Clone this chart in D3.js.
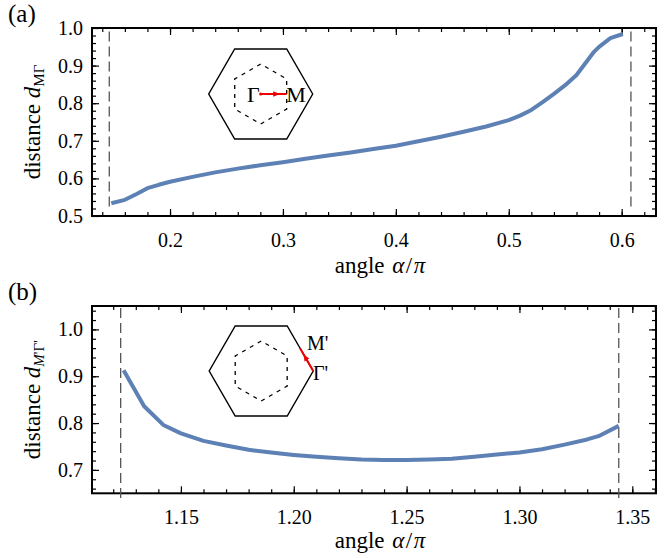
<!DOCTYPE html>
<html><head><meta charset="utf-8">
<script src="https://cdn.jsdelivr.net/npm/d3@7"></script>
</head><body style="margin:0;background:#fff">
<svg id="c" width="667" height="558"></svg>
<script>
// ---------- data ----------
const angleA = [0.148,0.16,0.17,0.18,0.19,0.2,0.22,0.24,0.26,0.28,0.3,0.32,0.34,0.36,0.38,0.4,0.42,0.44,0.46,0.48,0.5,0.51,0.52,0.53,0.54,0.55,0.56,0.565,0.57,0.575,0.58,0.59,0.601];
const distA  = [0.534,0.543,0.558,0.574,0.583,0.591,0.604,0.616,0.626,0.635,0.643,0.652,0.661,0.669,0.678,0.687,0.699,0.711,0.724,0.738,0.755,0.767,0.782,0.803,0.825,0.848,0.875,0.895,0.915,0.935,0.950,0.973,0.984];
const angleB = [1.1246,1.1337,1.1422,1.15,1.16,1.17,1.18,1.19,1.20,1.21,1.22,1.23,1.24,1.25,1.26,1.27,1.28,1.29,1.30,1.31,1.32,1.33,1.335,1.344];
const distB  = [0.913,0.836,0.796,0.778,0.762,0.752,0.743,0.737,0.732,0.728,0.725,0.722,0.721,0.721,0.722,0.724,0.728,0.733,0.737,0.744,0.754,0.765,0.772,0.794];
const xTicksA = [0.2,0.3,0.4,0.5,0.6];
const yTicksA = [0.5,0.6,0.7,0.8,0.9,1.0];
const xTicksB = [1.15,1.20,1.25,1.30,1.35];
const yTicksB = [0.7,0.8,0.9,1.0];
const boundsA = [0.1462,0.6082];   // dashed vertical lines
const boundsB = [1.1233,1.344];

const FONT = '"Liberation Serif"';
const svg = d3.select("#c");
const LINE = "#5e81b5";

function panel(o){
  const x = d3.scaleLinear().domain(o.xd).range([92,656]);
  const y = d3.scaleLinear().domain(o.yd).range([o.bottom,o.top]);
  const g = svg.append("g");
  const H = o.bottom-o.top, W = 656-92;
  const clean = s => s.select(".domain").remove();
  const minorX = d3.range(Math.ceil(o.xd[0]/o.xm), Math.floor(o.xd[1]/o.xm)+1).map(k=>+(k*o.xm).toFixed(4)).filter(v=>v>o.xd[0]&&v<o.xd[1]);
  const minorY = d3.range(Math.ceil(o.yd[0]/o.ym-1e-6), Math.floor(o.yd[1]/o.ym+1e-6)+1).map(k=>+(k*o.ym).toFixed(4)).filter(v=>v>o.yd[0]&&v<o.yd[1]);
  g.append("g").attr("transform",`translate(0,${o.bottom})`).call(d3.axisBottom(x).tickValues(minorX).tickSize(-4).tickFormat("")).call(clean);
  g.append("g").attr("transform",`translate(0,${o.top})`).call(d3.axisTop(x).tickValues(minorX).tickSize(-4).tickFormat("")).call(clean);
  g.append("g").attr("transform",`translate(92,0)`).call(d3.axisLeft(y).tickValues(minorY).tickSize(-4).tickFormat("")).call(clean);
  g.append("g").attr("transform",`translate(656,0)`).call(d3.axisRight(y).tickValues(minorY).tickSize(-4).tickFormat("")).call(clean);
  g.append("g").attr("transform",`translate(0,${o.bottom})`).call(d3.axisBottom(x).tickValues(o.xt).tickSize(-7).tickPadding(17).tickFormat(o.xf)).call(clean);
  g.append("g").attr("transform",`translate(0,${o.top})`).call(d3.axisTop(x).tickValues(o.xt).tickSize(-7).tickFormat("")).call(clean);
  g.append("g").attr("transform",`translate(92,0)`).call(d3.axisLeft(y).tickValues(o.yt).tickSize(-7).tickPadding(9).tickFormat(d3.format(".1f"))).call(clean);
  g.append("g").attr("transform",`translate(656,0)`).call(d3.axisRight(y).tickValues(o.yt).tickSize(-7).tickFormat("")).call(clean);
  g.selectAll(".tick line").attr("stroke","#000").attr("stroke-width",1.2);
  g.selectAll(".tick text").attr("font-size",20).attr("fill","#000");
  g.append("rect").attr("x",92).attr("y",o.top).attr("width",W).attr("height",H)
    .attr("fill","none").attr("stroke","#000").attr("stroke-width",2);
  o.bounds.forEach(b=>{
    g.append("line").attr("x1",x(b)).attr("x2",x(b)).attr("y1",y(o.dashY[0])).attr("y2",y(o.dashY[1]))
      .attr("stroke","#555").attr("stroke-width",1.3).attr("stroke-dasharray","10,5");
  });
  g.append("path").datum(o.xs.map((v,i)=>[v,o.ys[i]]))
    .attr("d",d3.line().x(d=>x(d[0])).y(d=>y(d[1])))
    .attr("fill","none").attr("stroke",LINE).attr("stroke-width",4).attr("stroke-linejoin","round");
  g.append("text").attr("x",8).attr("y",o.top-6).attr("font-size",25).text(o.label);
  const xl = g.append("text").attr("x",380).attr("y",o.xlabY).attr("text-anchor","middle").attr("font-size",23);
  xl.append("tspan").text("angle ");
  xl.append("tspan").attr("dx",2).attr("font-style","italic").text("α");
  xl.append("tspan").attr("dx",1.5).text("/");
  xl.append("tspan").attr("dx",1.5).attr("font-style","italic").text("π");
  const yl = g.append("text").attr("transform",`translate(40,${(o.top+o.bottom)/2}) rotate(-90)`).attr("text-anchor","middle").attr("font-size",23);
  yl.append("tspan").text("distance ");
  yl.append("tspan").attr("font-style","italic").text("d");
  o.sub.forEach(s=>{
    yl.append("tspan").attr("font-size",15).attr("dy",s.dy||null).attr("font-style",s.it?"italic":null).text(s.t);
  });
  return g;
}

panel({xd:[0.1309,0.6304], yd:[0.5,1.0], top:28, bottom:216, xt:xTicksA, yt:yTicksA, xm:0.02, ym:0.02,
  xf:d3.format(".1f"), bounds:boundsA, dashY:[0.525,0.995], xs:angleA, ys:distA, label:"(a)", xlabY:273,
  sub:[{t:"M",dy:4},{t:"Γ"}]});
panel({xd:[1.1106,1.3605], yd:[0.65,1.05], top:306, bottom:493.3, xt:xTicksB, yt:yTicksB, xm:0.01, ym:0.02,
  xf:d3.format(".2f"), bounds:boundsB, dashY:[0.64,1.05], xs:angleB, ys:distB, label:"(b)", xlabY:548,
  sub:[{t:"M",dy:4,it:true},{t:"'Γ'"}]});

// ---------- insets ----------
function hex(cx,cy,r,start){
  return d3.range(6).map(k=>{const a=(start+60*k)*Math.PI/180;return [cx+r*Math.cos(a),cy-r*Math.sin(a)];});
}
const defs = svg.append("defs");
defs.append("marker").attr("id","arr").attr("viewBox","0 0 10 10").attr("refX",5).attr("refY",5)
  .attr("markerWidth",7).attr("markerHeight",7).attr("orient","auto")
  .append("path").attr("d","M0,1 L10,5 L0,9 Z").attr("fill","#e00");

function inset(cx,cy){
  const g = svg.append("g");
  g.append("polygon").attr("points",hex(cx,cy,52,0).join(" ")).attr("fill","none").attr("stroke","#000").attr("stroke-width",1.4);
  g.append("polygon").attr("points",hex(cx,cy,30,90).join(" ")).attr("fill","none").attr("stroke","#000").attr("stroke-width",1.3).attr("stroke-dasharray","4,5");
  return g;
}
{
  const cx=260.7, cy=94, g=inset(cx,cy);
  const mx = cx+30*Math.cos(Math.PI/6);
  g.append("line").attr("x1",cx).attr("y1",cy).attr("x2",mx).attr("y2",cy).attr("stroke","#e00").attr("stroke-width",2);
  g.append("path").attr("d",`M${cx},${cy} L${(cx+mx)/2+3},${cy}`).attr("stroke","none").attr("marker-end","url(#arr)");
  g.append("circle").attr("cx",cx).attr("cy",cy).attr("r",1.6).attr("fill","#e00");
  g.append("text").attr("x",cx-1).attr("y",cy+7.5).attr("text-anchor","end").attr("font-size",22).text("Γ");
  g.append("text").attr("x",mx-0.5).attr("y",cy+7.5).attr("font-size",22).text("M");
}
{
  const cx=261.2, cy=371, g=inset(cx,cy);
  const v0=[cx+52,cy], v1=[cx+26,cy-52*Math.sin(Math.PI/3)];
  const m=[(v0[0]+v1[0])/2,(v0[1]+v1[1])/2];
  g.append("line").attr("x1",v0[0]).attr("y1",v0[1]).attr("x2",m[0]).attr("y2",m[1]).attr("stroke","#e00").attr("stroke-width",2);
  g.append("path").attr("d",`M${v0[0]},${v0[1]} L${(v0[0]+m[0])/2-1.5},${(v0[1]+m[1])/2-2.6}`).attr("stroke","none").attr("marker-end","url(#arr)");
  g.append("text").attr("x",307).attr("y",350).attr("font-size",20).text("M'");
  g.append("text").attr("x",313).attr("y",380).attr("font-size",20).text("Γ'");
}
svg.selectAll("g").attr("font-family",null);
svg.selectAll("text").style("font-family",FONT).attr("fill","#000");
</script>
</body></html>
